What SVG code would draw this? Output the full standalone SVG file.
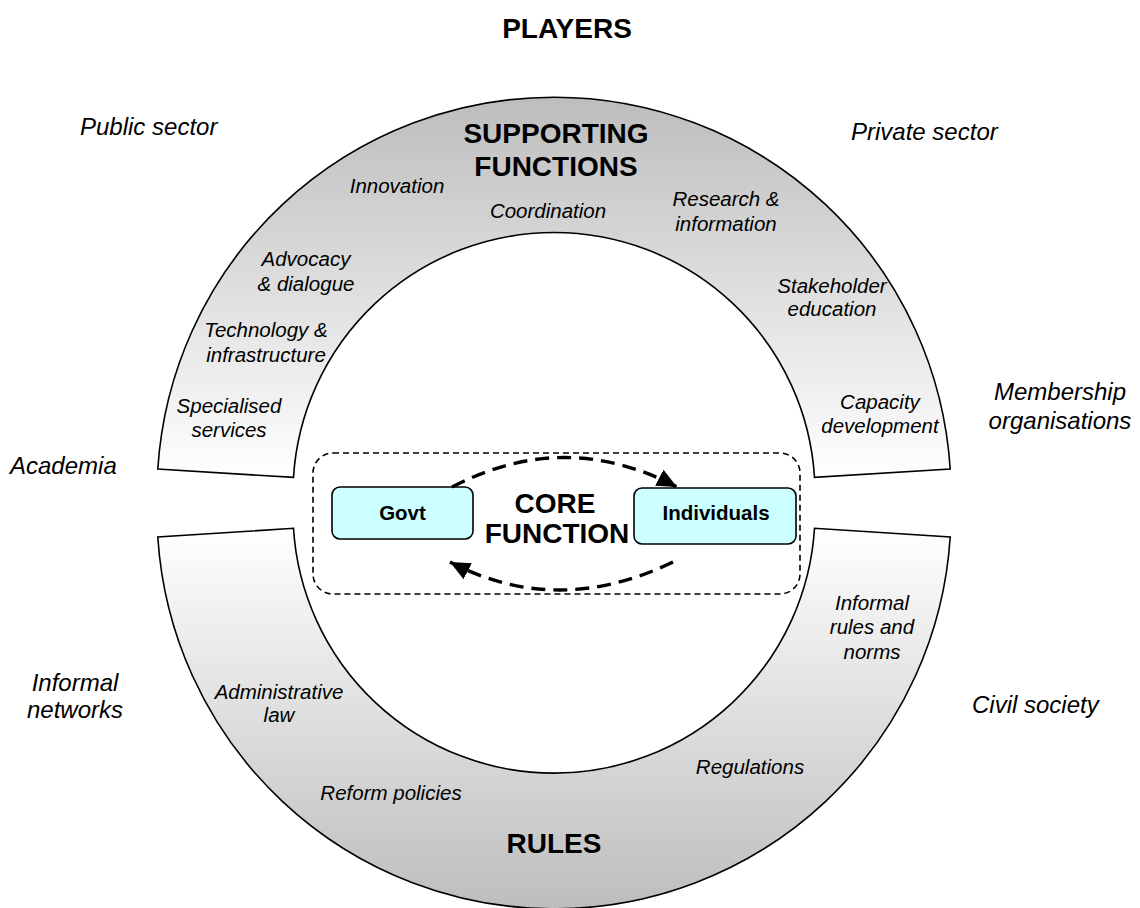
<svg xmlns="http://www.w3.org/2000/svg" width="1140" height="908" viewBox="0 0 1140 908">
<defs>
<linearGradient id="gTop" x1="0" y1="0" x2="0" y2="1">
<stop offset="0" stop-color="#bdbdbd"/>
<stop offset="1" stop-color="#ffffff"/>
</linearGradient>
<linearGradient id="gBot" x1="0" y1="0" x2="0" y2="1">
<stop offset="0" stop-color="#ffffff"/>
<stop offset="1" stop-color="#bdbdbd"/>
</linearGradient>
<marker id="arr" markerUnits="userSpaceOnUse" markerWidth="22" markerHeight="18" refX="20" refY="9" orient="auto">
<path d="M0,0 L20,9 L0,18 Z" fill="#000"/>
</marker>
<style>
text{font-family:"Liberation Sans",Arial,sans-serif;fill:#000}
.h{font-weight:bold;font-size:28px;text-anchor:middle}
.o{font-style:italic;font-size:24px}
.i{font-style:italic;font-size:20.5px;text-anchor:middle}
.n{font-weight:bold;font-size:20.5px;text-anchor:middle}
.ring{stroke:#000;stroke-width:1.6}
.box{fill:#ccffff;stroke:#000;stroke-width:1.6}
.con{fill:none;stroke:#000;stroke-width:3.4;stroke-dasharray:14 8}
</style>
</defs>
<rect width="1140" height="908" fill="#fff"/>
<text class="h" x="567" y="38">PLAYERS</text>

<g id="supporting">
<path class="ring" fill="url(#gTop)" d="M157.8 469 A397 397 0 0 1 950.2 469 L814.5 477.4 A261 261 0 0 0 293.5 477.4 Z"/>
<text class="h" x="556" y="143">SUPPORTING</text>
<text class="h" x="556" y="176">FUNCTIONS</text>
<text class="i" x="397" y="193">Innovation</text>
<text class="i" x="548" y="218">Coordination</text>
<text class="i" x="726" y="206">Research &amp;</text>
<text class="i" x="726" y="231">information</text>
<text class="i" x="306" y="266">Advocacy</text>
<text class="i" x="306" y="291">&amp; dialogue</text>
<text class="i" x="832" y="293">Stakeholder</text>
<text class="i" x="832" y="316">education</text>
<text class="i" x="266" y="337">Technology &amp;</text>
<text class="i" x="266" y="362">infrastructure</text>
<text class="i" x="229" y="413">Specialised</text>
<text class="i" x="229" y="437">services</text>
<text class="i" x="880" y="409">Capacity</text>
<text class="i" x="880" y="433">development</text>
</g>

<g id="rules">
<path class="ring" fill="url(#gBot)" d="M157.8 537 A397 397 0 0 0 950.2 537 L814.5 528.3 A261 261 0 0 1 293.5 528.3 Z"/>
<text class="i" x="872" y="610">Informal</text>
<text class="i" x="872" y="634">rules and</text>
<text class="i" x="872" y="659">norms</text>
<text class="i" x="279" y="699">Administrative</text>
<text class="i" x="279" y="722">law</text>
<text class="i" x="750" y="774">Regulations</text>
<text class="i" x="391" y="800">Reform policies</text>
<text class="h" x="554" y="853">RULES</text>
</g>

<g id="players">
<text class="o" x="80" y="135">Public sector</text>
<text class="o" x="851" y="140">Private sector</text>
<text class="o" x="1060" y="400" text-anchor="middle">Membership</text>
<text class="o" x="1060" y="429" text-anchor="middle">organisations</text>
<text class="o" x="10" y="474">Academia</text>
<text class="o" x="75" y="691" text-anchor="middle">Informal</text>
<text class="o" x="75" y="718" text-anchor="middle">networks</text>
<text class="o" x="972" y="713">Civil society</text>
</g>

<g id="core">
<rect x="313" y="453" width="487" height="141" rx="20" fill="none" stroke="#000" stroke-width="1.6" stroke-dasharray="6 4"/>
<text class="h" x="555" y="513">CORE</text>
<text class="h" x="557" y="543">FUNCTION</text>
</g>

<g id="govt">
<rect class="box" x="332" y="487" width="141" height="52" rx="8"/>
<text class="n" x="402.5" y="520">Govt</text>
</g>

<g id="individuals">
<rect class="box" x="634" y="488" width="162" height="56" rx="8"/>
<text class="n" x="716" y="520">Individuals</text>
</g>

<g id="connectors">
<path class="con" d="M452 487 Q565 428 677 487" marker-end="url(#arr)"/>
<path class="con" d="M673 562 Q557 618 450 562" marker-end="url(#arr)"/>
</g>
</svg>
